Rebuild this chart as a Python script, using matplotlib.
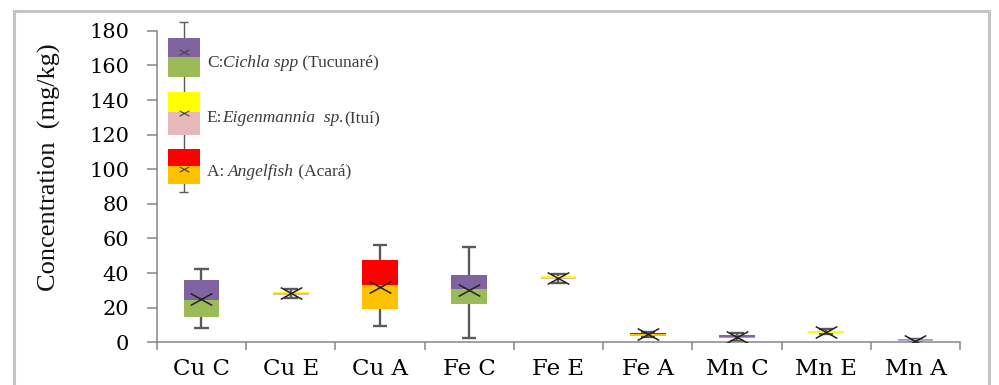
import matplotlib
matplotlib.use("Agg")
import matplotlib.pyplot as plt
from matplotlib.path import Path
from matplotlib.patches import Rectangle

# ---- data (mg/kg) ----
categories = ["Cu C", "Cu E", "Cu A", "Fe C", "Fe E", "Fe A", "Mn C", "Mn E", "Mn A"]
whisker_low = [8.4, 25.5, 9.4, 2.7, 34.5, 2.8, 0.5, 4.5, 0.2]
q1 = [14.8, 27.6, 19.0, 22.4, 36.5, 3.9, 2.5, 5.3, 0.7]
median = [24.7, 28.4, 33.0, 30.5, 36.9, 4.6, 3.3, 5.6, 1.2]
q3 = [35.9, 29.3, 47.4, 38.7, 38.2, 5.3, 4.1, 6.6, 1.8]
whisker_high = [42.6, 31.0, 56.0, 55.0, 39.5, 6.0, 5.5, 7.5, 2.0]
mean = [25.0, 28.5, 32.0, 30.0, 37.0, 4.5, 3.2, 6.0, 0.6]

# legend key (drawn as a stacked box column beside the axis)
legend_labels = ["C:", "E:", "A: "]
legend_italic = ["Cichla spp", "Eigenmannia  sp.", "Angelfish"]
legend_common = [" (Tucunaré)", "(Ituí)", " (Acará)"]
legend_low = [153.4, 119.7, 91.5]
legend_mid = [165.0, 133.0, 102.0]
legend_high = [175.9, 144.6, 111.7]
legend_mean = [168.0, 132.7, 100.0]
legend_whisker = [86.7, 185.0]

# ---- styles ----
group_colors = {
    "C": ("#8064A2", "#9BBB59"),   # upper, lower
    "E": ("#FFFF00", "#E6B9B8"),
    "A": ("#FF0000", "#FFC000"),
}
box_groups = ["C", "E", "A", "C", "E", "A", "C", "E", "A"]
box_fill = [group_colors[g] for g in box_groups]
box_fill[8] = ("#A898C4", "#B8AED0")
legend_groups = ["C", "E", "A"]

serif = ["DejaVu Serif"]
axis_grey = "#868686"
whisker_grey = "#5a5a5a"

# flattened "x" mark for the means
xmark = Path([(-1, -0.55), (1, 0.55), (-1, 0.55), (1, -0.55)],
             [Path.MOVETO, Path.LINETO, Path.MOVETO, Path.LINETO])

fig = plt.figure(figsize=(9.99, 3.85), dpi=100)
ax = fig.add_axes([0.157, 0.111, 0.804, 0.809])

pos = list(range(len(categories)))
width = 0.40
cap = 0.08

# whiskers (behind the boxes)
ax.vlines(pos, whisker_low, whisker_high, color=whisker_grey, lw=1.7, zorder=1)
ax.hlines(whisker_low, [p - cap for p in pos], [p + cap for p in pos],
          color=whisker_grey, lw=1.7, zorder=1)
ax.hlines(whisker_high, [p - cap for p in pos], [p + cap for p in pos],
          color=whisker_grey, lw=1.7, zorder=1)

# stacked boxes: q1 -> median (lower colour), median -> q3 (upper colour)
lower_h = [m - a for m, a in zip(median, q1)]
upper_h = [b - m for b, m in zip(q3, median)]
ax.bar(pos, lower_h, width=width, bottom=q1,
       color=[c[1] for c in box_fill], zorder=2, linewidth=0)
ax.bar(pos, upper_h, width=width, bottom=median,
       color=[c[0] for c in box_fill], zorder=2, linewidth=0)
ax.plot(pos, mean, linestyle="none", marker=xmark, markersize=15.5,
        markeredgewidth=1.1, color="#222222", zorder=3)

# legend key column
lx = -0.2
lw_box = 0.36
ax.vlines([lx], [legend_whisker[0]], [legend_whisker[1]], color=whisker_grey,
          lw=1.0, zorder=1, clip_on=False)
ax.hlines(legend_whisker, [lx - 0.05] * 2, [lx + 0.05] * 2, color=whisker_grey,
          lw=1.0, zorder=1, clip_on=False)
for g, lo, mid, hi in zip(legend_groups, legend_low, legend_mid, legend_high):
    up_c, low_c = group_colors[g]
    ax.add_patch(Rectangle((lx - lw_box / 2, lo), lw_box, mid - lo, color=low_c,
                           zorder=2, lw=0, clip_on=False))
    ax.add_patch(Rectangle((lx - lw_box / 2, mid), lw_box, hi - mid, color=up_c,
                           zorder=2, lw=0, clip_on=False))
ax.plot([lx] * 3, legend_mean, linestyle="none", marker=xmark, markersize=7,
        markeredgewidth=0.8, color="#444444", zorder=3, clip_on=False)

leg_font = dict(fontsize=12.5, family=["Liberation Serif"], color="#3a3a3a")
for lab, ital, com, mid in zip(legend_labels, legend_italic, legend_common, legend_mid):
    t = ax.text(lx + 0.26, mid - 3.5, lab, va="center", ha="left", **leg_font)
    t2 = ax.annotate(ital, xy=(1, 0), xycoords=t, va="bottom", ha="left",
                     style="italic", **leg_font)
    ax.annotate(com, xy=(1, 0), xycoords=t2, va="bottom", ha="left", **leg_font)

# axes
ax.set_xlim(-0.5, len(categories) - 0.5)
ax.set_ylim(0, 180)
ax.set_yticks(range(0, 181, 20))
ax.set_xticks([p - 0.5 for p in pos] + [len(categories) - 0.5])
ax.set_xticklabels([])
ax.set_xticks(pos, minor=True)
ax.set_xticklabels(categories, minor=True, fontsize=16.5, family=serif)
ax.tick_params(axis="x", which="major", direction="out", length=6,
               width=1.1, color=axis_grey)
ax.tick_params(axis="x", which="minor", length=0, pad=11)
ax.tick_params(axis="y", direction="out", length=7, width=1.1, color=axis_grey,
               pad=13, labelsize=15)
for lbl in ax.get_yticklabels():
    lbl.set_family(serif)
for s in ("top", "right"):
    ax.spines[s].set_visible(False)
for s in ("left", "bottom"):
    ax.spines[s].set_color(axis_grey)
    ax.spines[s].set_linewidth(1.1)

fig.text(49 / 999, 1 - 167 / 385, "Concentration  (mg/kg)", rotation=90,
         ha="center", va="center", fontsize=19, family=["Liberation Serif"],
         color="#111111")

# outer frame
fig.patches.append(Rectangle((0.014, -0.1), 0.9755, 1.0714, transform=fig.transFigure,
                             fill=False, edgecolor="#c4c4c4", lw=2.2, zorder=0))

fig.savefig("out.png", dpi=100)
